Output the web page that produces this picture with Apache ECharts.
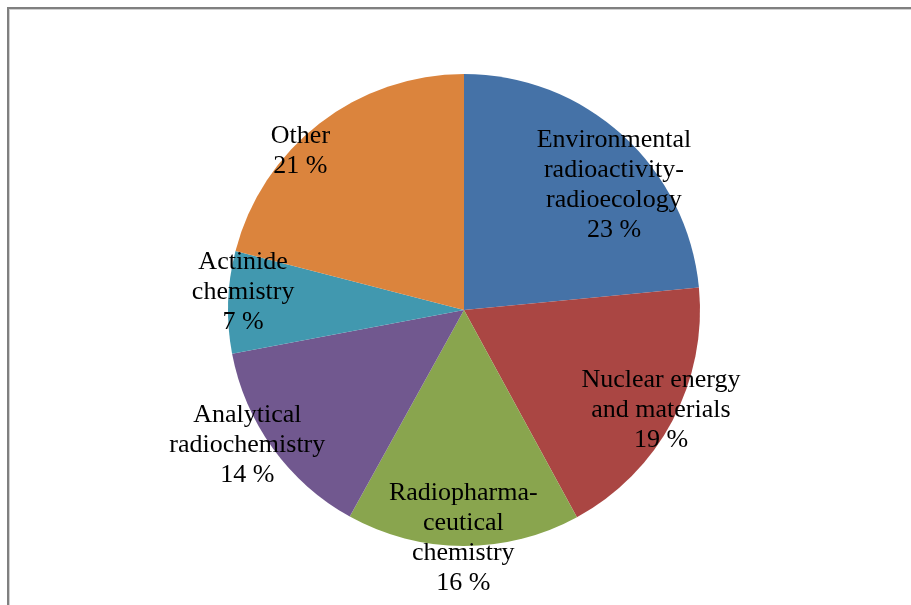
<!DOCTYPE html>
<html>
<head>
<meta charset="utf-8">
<script src="https://cdn.jsdelivr.net/npm/echarts@6/dist/echarts.min.js"></script>
<style>
html,body{margin:0;padding:0;background:#fff;}
#frame{position:absolute;left:7px;top:7px;width:920px;height:620px;border-left:2px solid #808080;border-top:2px solid #808080;}
#frame2{position:absolute;left:0;top:0;width:100%;height:100%;border-left:1px solid #d0d0d0;border-top:1px solid #d0d0d0;}
#chart{position:absolute;left:0;top:0;width:911px;height:605px;}
</style>
</head>
<body>
<div id="frame"><div id="frame2"></div></div>
<div id="chart"></div>
<script>
var categories = [
  'Environmental\nradioactivity-\nradioecology',
  'Nuclear energy\nand materials',
  'Radiopharma-\nceutical\nchemistry',
  'Analytical\nradiochemistry',
  'Actinide\nchemistry',
  'Other'
];
var values = [23.5, 18.6, 16, 14, 7, 21];
var percentLabels = ['23 %', '19 %', '16 %', '14 %', '7 %', '21 %'];
var colors = ['#4572A7', '#AA4643', '#89A54E', '#71588F', '#4198AF', '#DB843D'];
var labelShift = [[0, 40], [0, -4], [0, 5], [-36, 4], [2, -10], [-27, 17]];

var data = categories.map(function (c, i) {
  return { name: c, value: values[i], itemStyle: { color: colors[i] } };
});
var labelData = categories.map(function (c, i) {
  return { name: c, value: values[i] };
});

var chart = echarts.init(document.getElementById('chart'), null, { renderer: 'canvas' });
chart.setOption({
  animation: false,
  backgroundColor: 'transparent',
  series: [
    {
      type: 'pie',
      center: [464, 310],
      radius: [0, 236],
      startAngle: 90,
      clockwise: true,
      data: data,
      label: { show: false },
      labelLine: { show: false },
      itemStyle: { borderWidth: 0 },
      emphasis: { disabled: true },
      silent: true
    },
    {
      type: 'pie',
      center: [464, 310],
      radius: [200, 240],
      startAngle: 90,
      clockwise: true,
      data: labelData,
      silent: true,
      itemStyle: { color: 'rgba(0,0,0,0)', borderWidth: 0 },
      emphasis: { disabled: true },
      labelLine: { show: false },
      label: {
        show: true,
        position: 'inside',
        color: '#000',
        fontFamily: 'Liberation Serif',
        fontSize: 26,
        lineHeight: 30,
        align: 'center',
        formatter: function (p) { return p.name + '\n' + percentLabels[p.dataIndex]; }
      },
      labelLayout: function (p) {
        var s = labelShift[p.dataIndex];
        return { dx: s[0], dy: s[1] };
      }
    }
  ]
});
</script>
</body>
</html>
